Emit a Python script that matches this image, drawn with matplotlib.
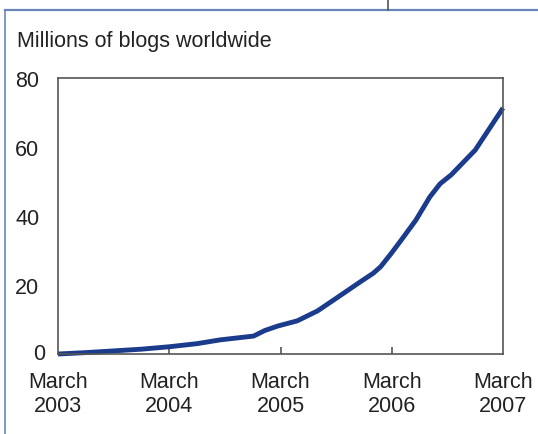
import matplotlib
matplotlib.use("Agg")
import matplotlib.pyplot as plt
from matplotlib.lines import Line2D
from matplotlib import transforms

# months since March 2003, millions of blogs
months = [0, 3, 6, 9, 12, 15, 17.5, 21.1, 22.3, 23.7, 25.8, 28.0, 30.2, 32.6,
          34.0, 34.8, 35.9, 37.1, 38.6, 40.1, 41.2, 42.4, 45.0, 48.0]
blogs = [0, 0.4, 0.9, 1.4, 2.1, 3.0, 4.1, 5.2, 6.8, 8.1, 9.6, 12.5, 16.5, 20.9,
         23.4, 25.3, 29.0, 33.3, 38.8, 45.5, 49.3, 51.9, 59.1, 71.3]

xtick_pos = [0, 12, 24, 36, 48]
xtick_labels = ["March\n2003", "March\n2004", "March\n2005", "March\n2006", "March\n2007"]
ytick_pos = [0, 20, 40, 60, 80]
ytick_labels = ["0", "20", "40", "60", "80"]

W, H = 538, 435
FS = 15.5
plt.rcParams['font.family'] = ['Liberation Sans', 'DejaVu Sans']

fig = plt.figure(figsize=(W / 100, H / 100), dpi=100)
fig.patch.set_facecolor('white')
ax = fig.add_axes([58 / W, 1 - 355 / H, (503 - 58) / W, (355 - 79) / H])

ax.plot(months, blogs, color='#1b3c8c', lw=3.5, solid_capstyle='butt',
        solid_joinstyle='round', clip_on=False)

ax.set_xlim(0, 48)
ax.set_ylim(0, 80)
for s in ax.spines.values():
    s.set_color('#555555')
    s.set_linewidth(1.2)

ax.set_xticks(xtick_pos)
ax.set_xticklabels(xtick_labels, fontsize=FS, color='#222222', linespacing=1.2)
ax.tick_params(axis='x', direction='in', length=5, width=1.2, color='#555555', pad=12)
ax.set_yticks(ytick_pos)
ax.set_yticklabels(ytick_labels, fontsize=FS, color='#222222')
ax.tick_params(axis='y', length=0, pad=13.5)
# hide tick marks at the ends of the x axis
xt = ax.xaxis.get_major_ticks()
xt[0].tick1line.set_visible(False)
xt[-1].tick1line.set_visible(False)
# bottom "0" sits a little lower-right, as in the original
lbl0 = ax.get_yticklabels()[0]
lbl0.set_transform(lbl0.get_transform() + transforms.ScaledTranslation(6 / 100, 3 / 100, fig.dpi_scale_trans))

fig.text(17 / W, 1 - 41 / H, "Millions of blogs worldwide", fontsize=FS,
         color='#222222', ha='left', va='center')

# panel frame bits
fig.add_artist(Line2D([5 / W, 1], [1 - 11 / H, 1 - 11 / H], color='#6a86b8', lw=1.6))
fig.add_artist(Line2D([5 / W, 5 / W], [0, 1 - 11 / H], color='#6a86b8', lw=1.2))
fig.add_artist(Line2D([388 / W, 388 / W], [1 - 11 / H, 1], color='#555555', lw=1.2))

fig.savefig("out.png", dpi=100)
